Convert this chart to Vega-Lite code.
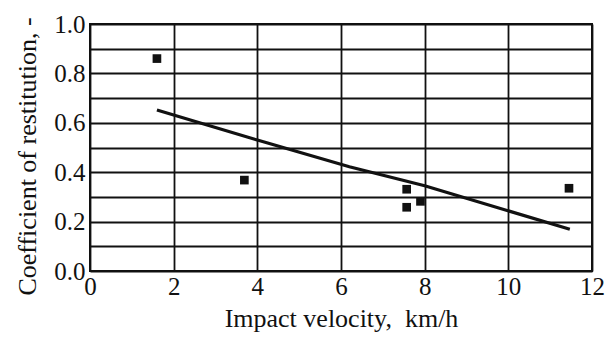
{
  "$schema": "https://vega.github.io/schema/vega-lite/v6.json",
  "width": 502,
  "height": 247,
  "autosize": "none",
  "padding": {"left": 90, "top": 24, "right": 24, "bottom": 67},
  "background": "white",
  "config": {
    "view": {"stroke": "#111", "strokeWidth": 2},
    "font": "Liberation Serif",
    "axis": {
      "labelFont": "Liberation Serif",
      "titleFont": "Liberation Serif",
      "labelColor": "#111",
      "titleColor": "#111",
      "titleFontWeight": "normal",
      "gridColor": "#111",
      "gridOpacity": 1,
      "gridWidth": 1.8,
      "domain": false,
      "ticks": false
    }
  },
  "datasets": {
    "measured": [
      {"v": 1.6, "e": 0.86},
      {"v": 3.69, "e": 0.368},
      {"v": 7.57, "e": 0.331},
      {"v": 7.57, "e": 0.258},
      {"v": 7.9, "e": 0.282},
      {"v": 11.45, "e": 0.335}
    ],
    "fit": [
      {"v": 1.6, "e": 0.652},
      {"v": 4.0, "e": 0.53},
      {"v": 6.2, "e": 0.422},
      {"v": 8.0, "e": 0.345},
      {"v": 11.47, "e": 0.169}
    ]
  },
  "encoding": {
    "x": {
      "field": "v", "type": "quantitative",
      "scale": {"domain": [0, 12], "nice": false, "zero": false},
      "axis": {
        "title": "Impact velocity,\u00a0 km/h",
        "values": [0, 2, 4, 6, 8, 10, 12],
        "labelFontSize": 25,
        "titleFontSize": 26,
        "labelPadding": 3,
        "titlePadding": 6,
        "labelFlush": false
      }
    },
    "y": {
      "field": "e", "type": "quantitative",
      "scale": {"domain": [0, 1], "nice": false},
      "axis": {
        "title": "Coefficient of restitution, -",
        "values": [0, 0.1, 0.2, 0.3, 0.4, 0.5, 0.6, 0.7, 0.8, 0.9, 1.0],
        "labelExpr": "(round(datum.value*10) % 2 == 0) ? format(datum.value, '.1f') : ''",
        "labelFontSize": 25,
        "titleFontSize": 26,
        "labelPadding": 5,
        "titlePadding": 13,
        "titleY": 132,
        "labelFlush": false
      }
    }
  },
  "layer": [
    {
      "data": {"name": "fit"},
      "mark": {"type": "line", "color": "#111", "strokeWidth": 3.2}
    },
    {
      "data": {"name": "measured"},
      "mark": {"type": "square", "filled": true, "color": "#111", "opacity": 1, "size": 75}
    }
  ]
}
